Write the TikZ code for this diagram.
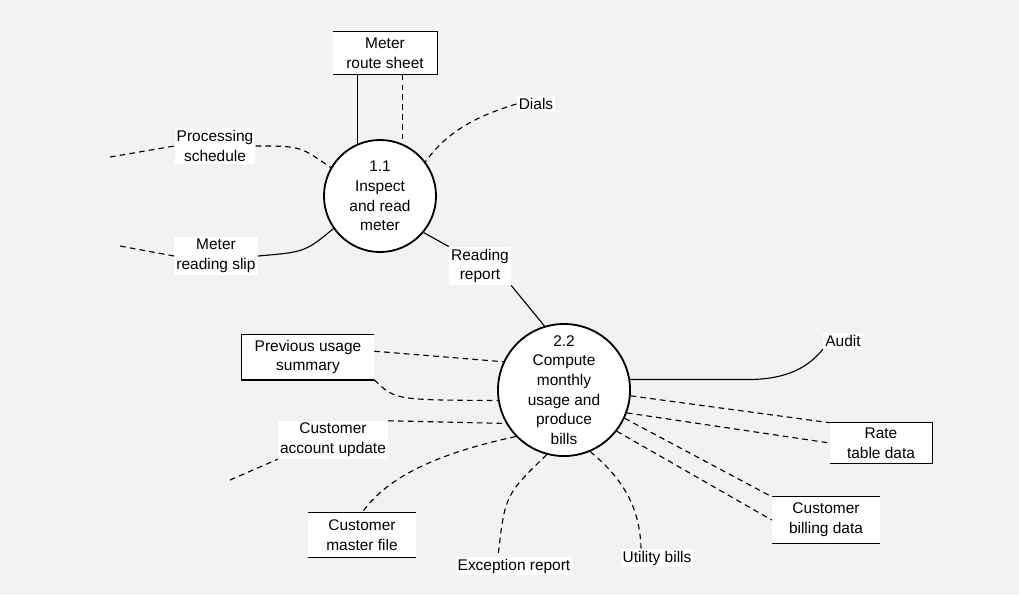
\documentclass[tikz,border=0pt]{standalone}
\usepackage{fontspec}
\setmainfont{Liberation Sans}
\definecolor{paper}{RGB}{242,242,242}
\begin{document}
\begin{tikzpicture}[x=0.025cm,y=-0.025cm,
  txt/.style={font=\fontsize{11}{14}\selectfont, align=center},
  proc/.style={txt, circle, draw, line width=1.3pt, fill=white, inner sep=0pt},
  flowlabel/.style={txt, fill=white, inner sep=1.5pt},
  store/.style={txt, fill=white, inner sep=1pt},
  edge/.style={line width=0.8pt},
  dflow/.style={line width=0.8pt, dash pattern=on 4pt off 3pt},
  rim/.style={line width=1pt}]

% page
\fill[paper] (0,0) rectangle (1019,595);
\useasboundingbox (0,0) rectangle (1019,595);

% processes
\node[proc, minimum size=2.8cm] (p11) at (380,196) {1.1\\Inspect\\and read\\meter};
\node[proc, minimum size=3.3cm] (p22) at (564,390) {2.2\\Compute\\monthly\\usage and\\produce\\bills};

% data stores
\node[store, minimum width=2.6cm, minimum height=1.075cm] (route) at (385,53) {Meter\\route sheet};
\draw[rim] (route.north west) -- (route.north east) -- (route.south east) -- (route.south west);

\node[store, minimum width=3.3cm, minimum height=1.125cm] (prev) at (308,357) {Previous usage\\summary};
\draw[rim] (prev.north east) -- (prev.north west) -- (prev.south west) -- (prev.south east);

\node[store, minimum width=2.7cm, minimum height=1.1cm] (cmf) at (362,535) {Customer\\master file};
\draw[rim] (cmf.north west) -- (cmf.north east);
\draw[rim] (cmf.south west) -- (cmf.south east);

\node[store, minimum width=2.55cm, minimum height=1cm] (rate) at (881,443) {Rate\\table data};
\draw[rim] (rate.north west) -- (rate.north east) -- (rate.south east) -- (rate.south west);

\node[store, minimum width=2.7cm, minimum height=1.15cm] (cbd) at (826,520) {Customer\\billing data};
\draw[rim] (cbd.north west) -- (cbd.north east);
\draw[rim] (cbd.south west) -- (cbd.south east);

% flow labels
\node[flowlabel] (dials) at (536,104) {Dials};
\node[flowlabel] (sched) at (215,146) {Processing\\schedule};
\node[flowlabel] (slip) at (216,256) {Meter\\reading slip};
\node[flowlabel] (rr) at (480,266) {Reading\\report};
\node[flowlabel] (cau) at (333,440) {Customer\\account update};
\node[flowlabel] (exc) at (514,566) {Exception report};
\node[flowlabel] (bills) at (657,558) {Utility bills};
\node[flowlabel] (audit) at (843,341) {Audit};

% free ends
\coordinate (schedsrc) at (110,157);
\coordinate (slipdst) at (120,246);
\coordinate (causrc) at (230,480);

% flows around 1.1
\draw[edge] (route.south -| p11.113) -- (p11.113);
\draw[dflow] (route.south -| p11.67) -- (p11.67);
\draw[dflow] (dials.west) .. controls (470,118) and (445,135) .. (p11.37);
\draw[dflow] (schedsrc) -- (sched.west);
\draw[dflow] (sched.east) .. controls (300,146) .. (p11.150);
\draw[edge] (p11.215) .. controls (305,252) .. (slip.east);
\draw[dflow] (slip.west) -- (slipdst);
\draw[edge] (p11.320) -- (rr.north west);
\draw[edge] (rr.south east) -- (p22.107);

% flows around 2.2
\draw[dflow] (prev.5) -- (p22.155);
\draw[dflow] (prev.south east) .. controls (395,400) .. (p22.189);
\draw[dflow] (cau.north east) -- (p22.210);
\draw[dflow] (causrc) -- (cau.south west);
\draw[dflow] (p22.224) .. controls (430,455) and (385,480) .. (cmf.north);
\draw[dflow] (p22.255) .. controls (505,495) .. ([xshift=-0.4cm]exc.north);
\draw[dflow] (p22.293) .. controls (625,480) and (640,510) .. ([xshift=-0.4cm]bills.north);
\draw[dflow] (p22.322) -- (cbd.west);
\draw[dflow] (p22.335) -- (cbd.north west);
\draw[dflow] (p22.340) -- (rate.west);
\draw[dflow] (p22.355) -- (rate.north west);
\draw[edge] (p22.9) -- ++(115,0) .. controls (790,380) and (810,365) .. (audit.south west);

\end{tikzpicture}
\end{document}
